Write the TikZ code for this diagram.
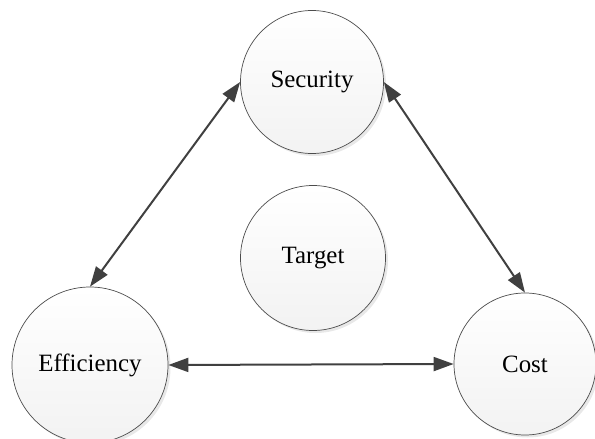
\documentclass[tikz,border=0pt]{standalone}
\usepackage{fontspec}
\setmainfont{Liberation Serif}
\usetikzlibrary{arrows.meta,shadows}

\begin{document}
\begin{tikzpicture}[x=1bp,y=-1bp,
		goal/.style={circle,draw=black!70,line width=0.7bp,inner sep=0pt,
			top color=white,bottom color=black!5,
			drop shadow={shadow xshift=2.5bp,shadow yshift=-2.5bp,fill=black!15,opacity=0.6},
			font=\fontsize{25}{30}\selectfont},
		link/.style={arrows={Triangle[length=20bp,width=14bp]-Triangle[length=20bp,width=14bp]},
			line width=2bp,draw=black!75,fill=black!75}]
		\useasboundingbox (0,0) rectangle (595,439);
		\node[goal,minimum size=143bp] (sec) at (312,82) {Security};
		\node[goal,minimum size=145bp] (tgt) at (313,258) {Target};
		\node[goal,minimum size=156bp] (eff) at (90,365) {Efficiency};
		\node[goal,minimum size=142bp] (cost) at (525,364) {Cost};
		\draw[link] (sec.west) -- (eff.north);
		\draw[link] (sec.east) -- (cost.north);
		\draw[link] (eff.east) -- (cost.west);
	\end{tikzpicture}
\end{document}
